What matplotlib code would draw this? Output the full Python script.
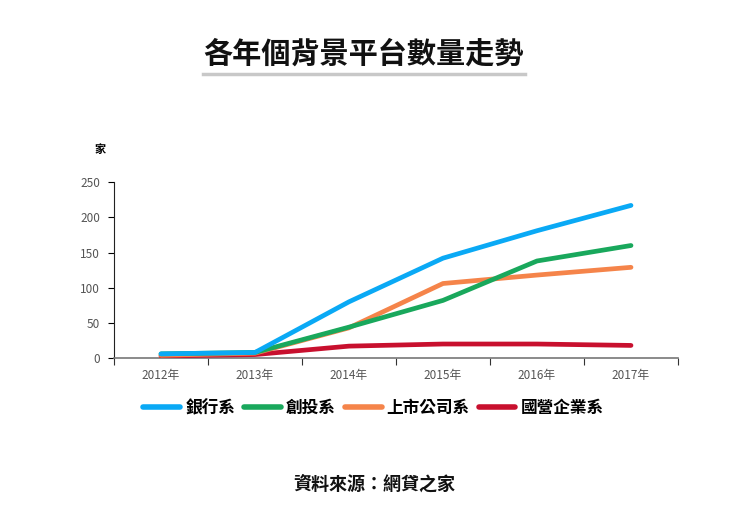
import matplotlib
matplotlib.use("Agg")
import matplotlib.pyplot as plt
from matplotlib.lines import Line2D
import numpy as np

plt.rcParams['font.family'] = ['Noto Sans CJK TC', 'DejaVu Sans']

years = ['2012年', '2013年', '2014年', '2015年', '2016年', '2017年']
bank = [6, 8, 80, 142, 181, 217]
vc = [6, 8, 44, 82, 138, 160]
listed = [4, 7, 43, 106, 118, 129]
state = [3, 5, 17, 20, 20, 18]

names = ['銀行系', '創投系', '上市公司系', '國營企業系']
colors = ['#0aa9f5', '#19a85c', '#f5844a', '#c8102e']
series = [bank, vc, listed, state]

fig = plt.figure(figsize=(7.5, 5.22), dpi=100)
ax = fig.add_axes([0.152, 0.314, 0.752, 0.337])

x = np.arange(len(years))
for i, (vals, c) in enumerate(zip(series, colors)):
    ax.plot(x, vals, color=c, lw=3.4, solid_capstyle='round', zorder=10 - i)

ax.set_xlim(-0.5, len(years) - 0.5)
ax.set_ylim(0, 250)
ax.set_yticks(np.arange(0, 251, 50))
ax.set_xticks(np.arange(-0.5, len(years), 1))
ax.set_xticklabels([])
ax.set_xticks(x, minor=True)
ax.set_xticklabels(years, minor=True)
ax.tick_params(axis='x', which='major', length=5, color='#333333')
ax.tick_params(axis='x', which='minor', length=0, pad=8, labelsize=8.5, labelcolor='#555555')
ax.tick_params(axis='y', length=4, labelsize=8.5, labelcolor='#555555', pad=6)

for s in ['top', 'right']:
    ax.spines[s].set_visible(False)
ax.spines['left'].set_color('#222222')
ax.spines['bottom'].set_color('#777777')
ax.spines['bottom'].set_linewidth(1.2)

fig.text(0.133, 0.713, '家', fontsize=8, fontweight='bold', ha='center', va='center')

fig.text(0.484, 0.898, '各年個背景平台數量走勢', fontsize=21, fontweight='bold',
         ha='center', va='center', color='#111111')
fig.add_artist(Line2D([0.271, 0.700], [0.858, 0.858], color='#c8c8c8', lw=2.5))

handles = [Line2D([0], [0], color=c, lw=4, solid_capstyle='round') for c in colors]
fig.legend(handles, names, loc='center', bbox_to_anchor=(0.498, 0.218), ncol=4,
           frameon=False, handlelength=2.2, handletextpad=0.3, columnspacing=0.55,
           prop={'size': 12, 'weight': 'bold'})

fig.text(0.499, 0.073, '資料來源：網貸之家', fontsize=13, fontweight='bold',
         ha='center', va='center', color='#111111')

fig.savefig('out.png', dpi=100)
